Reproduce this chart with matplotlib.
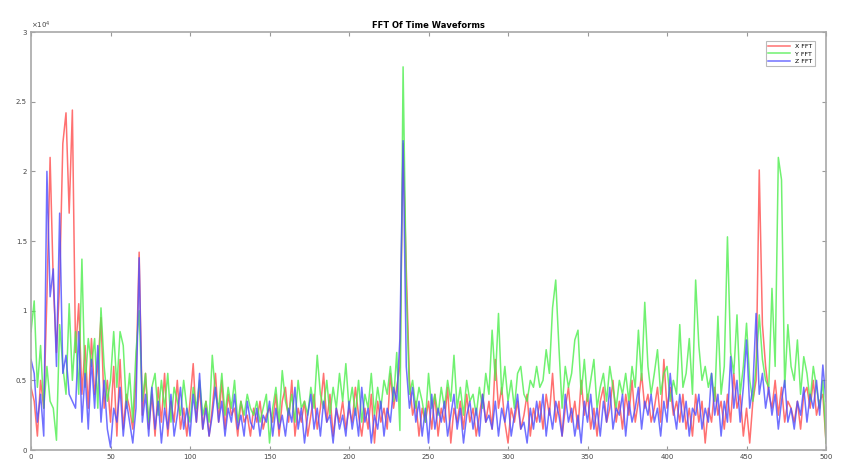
import matplotlib
matplotlib.use('Agg')
import matplotlib.pyplot as plt
import numpy as np
from matplotlib.ticker import FuncFormatter, MultipleLocator

# FFT magnitudes (units of 1e4), one value every 2 bins from 0 to 500
x_fft = [
    0.45, 0.35, 0.10, 0.50, 0.30, 1.10, 2.10, 1.20, 0.70, 1.20,
    2.20, 2.42, 1.70, 2.44, 0.70, 1.05, 0.40, 0.75, 0.30, 0.80,
    0.40, 0.60, 0.95, 0.30, 0.50, 0.20, 0.60, 0.10, 0.65, 0.15,
    0.40, 0.30, 0.15, 0.50, 1.42, 0.25, 0.55, 0.15, 0.40, 0.10,
    0.45, 0.20, 0.55, 0.10, 0.35, 0.20, 0.50, 0.15, 0.30, 0.10,
    0.35, 0.62, 0.20, 0.45, 0.15, 0.35, 0.10, 0.30, 0.55, 0.20,
    0.50, 0.15, 0.40, 0.25, 0.30, 0.10, 0.35, 0.20, 0.25, 0.10,
    0.30, 0.20, 0.35, 0.15, 0.25, 0.30, 0.20, 0.40, 0.10, 0.35,
    0.45, 0.20, 0.50, 0.10, 0.30, 0.20, 0.35, 0.10, 0.25, 0.40,
    0.15, 0.30, 0.55, 0.20, 0.40, 0.10, 0.30, 0.20, 0.35, 0.15,
    0.30, 0.20, 0.45, 0.25, 0.10, 0.30, 0.15, 0.40, 0.05, 0.35,
    0.20, 0.30, 0.15, 0.55, 0.30, 0.45, 0.60, 2.20, 1.30, 0.50,
    0.25, 0.35, 0.10, 0.30, 0.20, 0.35, 0.15, 0.40, 0.10, 0.30,
    0.20, 0.45, 0.05, 0.30, 0.20, 0.35, 0.15, 0.40, 0.20, 0.30,
    0.10, 0.25, 0.40, 0.20, 0.35, 0.15, 0.65, 0.30, 0.45, 0.20,
    0.05, 0.30, 0.20, 0.35, 0.15, 0.25, 0.40, 0.10, 0.30, 0.20,
    0.35, 0.15, 0.40, 0.25, 0.55, 0.20, 0.35, 0.10, 0.30, 0.45,
    0.20, 0.35, 0.15, 0.50, 0.25, 0.40, 0.15, 0.30, 0.10, 0.35,
    0.45, 0.20, 0.30, 0.50, 0.20, 0.35, 0.15, 0.40, 0.25, 0.50,
    0.20, 0.35, 0.55, 0.30, 0.40, 0.20, 0.30, 0.45, 0.20, 0.65,
    0.30, 0.45, 0.25, 0.35, 0.20, 0.40, 0.15, 0.30, 0.10, 0.40,
    0.20, 0.35, 0.05, 0.30, 0.20, 0.45, 0.25, 0.35, 0.15, 0.40,
    0.20, 0.55, 0.30, 0.40, 0.10, 0.30, 0.05, 0.35, 0.50, 2.01,
    0.90, 0.60, 0.40, 0.30, 0.50, 0.25, 0.45, 0.20, 0.35, 0.30,
    0.20, 0.35, 0.15, 0.40, 0.45, 0.30, 0.50, 0.25, 0.35, 0.40,
    0.05,
]

y_fft = [
    0.85, 1.07, 0.45, 0.75, 0.30, 0.60, 0.35, 0.30, 0.07, 0.90,
    0.60, 0.40, 1.05, 0.50, 0.85, 0.40, 1.37, 0.45, 0.80, 0.60,
    0.80, 0.30, 1.02, 0.60, 0.35, 0.50, 0.85, 0.45, 0.85, 0.75,
    0.30, 0.55, 0.20, 0.70, 1.00, 0.35, 0.55, 0.20, 0.45, 0.55,
    0.25, 0.50, 0.30, 0.55, 0.20, 0.45, 0.35, 0.25, 0.50, 0.30,
    0.20, 0.45, 0.30, 0.50, 0.25, 0.35, 0.20, 0.68, 0.40, 0.30,
    0.55, 0.25, 0.45, 0.30, 0.50, 0.20, 0.35, 0.25, 0.40, 0.30,
    0.25, 0.35, 0.20, 0.30, 0.40, 0.05, 0.30, 0.45, 0.20, 0.57,
    0.35, 0.25, 0.40, 0.20, 0.50, 0.30, 0.35, 0.25, 0.45, 0.30,
    0.68, 0.40, 0.30, 0.50, 0.25, 0.45, 0.30, 0.55, 0.35, 0.62,
    0.30, 0.45, 0.25, 0.50, 0.20, 0.40, 0.30, 0.55, 0.25, 0.45,
    0.30, 0.50, 0.40, 0.60, 0.35, 0.70, 0.14, 2.75, 1.17, 0.40,
    0.50, 0.30, 0.45, 0.35, 0.20, 0.55, 0.30, 0.40, 0.25, 0.45,
    0.30, 0.50, 0.35, 0.68, 0.30, 0.45, 0.25, 0.50, 0.35, 0.40,
    0.25, 0.45, 0.30, 0.55, 0.40, 0.86, 0.50, 0.98, 0.40, 0.60,
    0.35, 0.50, 0.30, 0.55, 0.60, 0.40, 0.35, 0.50, 0.45, 0.60,
    0.45, 0.50, 0.72, 0.55, 1.02, 1.22, 0.74, 0.30, 0.60, 0.45,
    0.55, 0.79, 0.86, 0.40, 0.65, 0.35, 0.50, 0.65, 0.30, 0.45,
    0.55, 0.35, 0.60, 0.45, 0.30, 0.50, 0.40, 0.55, 0.35, 0.60,
    0.45, 0.86, 0.50, 1.06, 0.60, 0.40, 0.55, 0.72, 0.40, 0.55,
    0.60, 0.35, 0.50, 0.40, 0.90, 0.45, 0.55, 0.80, 0.40, 1.22,
    0.75, 0.50, 0.60, 0.45, 0.55, 0.35, 0.96, 0.40, 0.60, 1.53,
    0.70, 0.55, 0.97, 0.40, 0.60, 0.91, 0.50, 0.35, 0.60, 0.97,
    0.65, 0.50, 0.45, 1.16, 0.60, 2.10, 1.94, 0.45, 0.90, 0.60,
    0.50, 0.79, 0.40, 0.67, 0.55, 0.35, 0.60, 0.45, 0.30, 0.50,
    0.05,
]

z_fft = [
    0.65, 0.55, 0.20, 0.40, 0.10, 2.00, 1.10, 1.30, 0.60, 1.70,
    0.55, 0.68, 0.40, 0.35, 0.30, 0.85, 0.20, 0.55, 0.15, 0.65,
    0.30, 0.75, 0.20, 0.50, 0.15, 0.02, 0.30, 0.20, 0.45, 0.10,
    0.35, 0.20, 0.05, 0.30, 1.38, 0.20, 0.40, 0.10, 0.45, 0.15,
    0.35, 0.05, 0.30, 0.15, 0.40, 0.10, 0.25, 0.45, 0.15, 0.30,
    0.10, 0.40, 0.20, 0.55, 0.15, 0.30, 0.10, 0.25, 0.45, 0.20,
    0.35, 0.10, 0.30, 0.20, 0.40, 0.15, 0.25, 0.10, 0.35, 0.20,
    0.15, 0.30, 0.10, 0.25, 0.20, 0.35, 0.10, 0.30, 0.15, 0.25,
    0.10, 0.30, 0.20, 0.45, 0.15, 0.30, 0.05, 0.25, 0.40, 0.15,
    0.30, 0.10, 0.35, 0.20, 0.25, 0.05, 0.30, 0.15, 0.25, 0.10,
    0.35, 0.15, 0.30, 0.10, 0.45, 0.20, 0.30, 0.05, 0.25, 0.15,
    0.35, 0.10, 0.30, 0.20, 0.45, 0.35, 0.80, 2.22, 0.60, 0.30,
    0.45, 0.20, 0.35, 0.10, 0.30, 0.05, 0.40, 0.15, 0.30, 0.20,
    0.35, 0.10, 0.25, 0.40, 0.15, 0.30, 0.05, 0.25, 0.35, 0.15,
    0.30, 0.10, 0.40, 0.20, 0.25, 0.15, 0.35, 0.10, 0.30, 0.20,
    0.35, 0.10, 0.25, 0.40, 0.15, 0.20, 0.05, 0.30, 0.15, 0.35,
    0.20, 0.40, 0.10, 0.30, 0.15, 0.35, 0.25, 0.10, 0.40, 0.20,
    0.30, 0.10, 0.25, 0.05, 0.35, 0.20, 0.40, 0.15, 0.30, 0.10,
    0.35, 0.20, 0.45, 0.15, 0.30, 0.25, 0.40, 0.10, 0.35, 0.20,
    0.30, 0.45, 0.15, 0.35, 0.25, 0.40, 0.20, 0.30, 0.10, 0.35,
    0.20, 0.55, 0.30, 0.15, 0.40, 0.20, 0.35, 0.10, 0.30, 0.25,
    0.40, 0.15, 0.30, 0.20, 0.55, 0.25, 0.40, 0.10, 0.35, 0.20,
    0.67, 0.30, 0.50, 0.20, 0.45, 0.79, 0.30, 0.45, 0.98, 0.40,
    0.55, 0.30, 0.45, 0.25, 0.40, 0.15, 0.35, 0.50, 0.20, 0.30,
    0.15, 0.35, 0.25, 0.45, 0.20, 0.40, 0.30, 0.50, 0.25, 0.61,
    0.35,
]

series_labels = ['X FFT', 'Y FFT', 'Z FFT']
scale = 1e4

freq = np.arange(len(x_fft)) * 2

fig = plt.figure(figsize=(8.5, 4.75), dpi=100)
ax = fig.add_axes([0.0365, 0.0526, 0.9353, 0.88])

colors = ['#ff4d4d', '#4dee4d', '#4d4dff']
for vals, lab, col in zip([x_fft, y_fft, z_fft], series_labels, colors):
    ax.plot(freq, np.array(vals) * scale, color=col, lw=1.1, alpha=0.8, label=lab)

ax.set_xlim(0, 500)
ax.set_ylim(0, 3e4)
ax.xaxis.set_major_locator(MultipleLocator(50))
ax.yaxis.set_major_locator(MultipleLocator(0.5e4))
ax.yaxis.set_major_formatter(FuncFormatter(lambda v, p: f'{v / scale:g}'))

spine_col = '#a8a8a8'
for s in ax.spines.values():
    s.set_color(spine_col)
    s.set_linewidth(1.2)
ax.tick_params(direction='in', top=True, right=True, length=3, width=0.8,
               color='#999999', labelsize=5, labelcolor='#444444', pad=3)

ax.text(0.0, 1.003, r'$\times10^4$', transform=ax.transAxes, fontsize=5,
        color='#444444', ha='left', va='bottom')
ax.set_title('FFT Of Time Waveforms', fontsize=6, fontweight='bold', pad=3)

leg = ax.legend(loc='upper right', fontsize=4.5, frameon=True, fancybox=False,
                handlelength=3.5, borderpad=0.4, labelspacing=0.3,
                bbox_to_anchor=(0.99, 0.985))
leg.get_frame().set_edgecolor('#aaaaaa')
leg.get_frame().set_linewidth(0.8)

plt.savefig('out.png', dpi=100)
plt.close()
